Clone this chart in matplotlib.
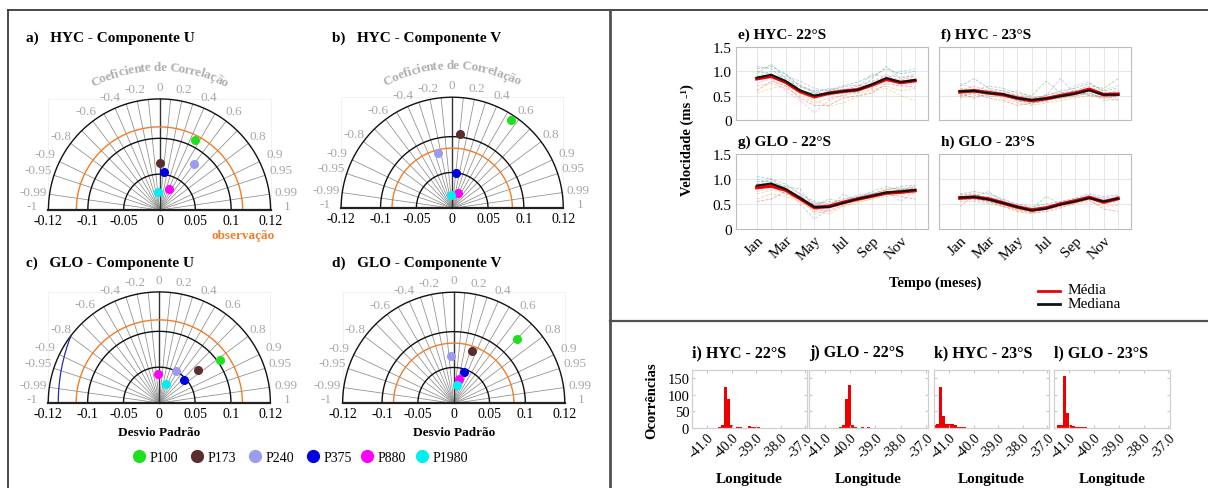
import numpy as np
import matplotlib
matplotlib.use('Agg')
import matplotlib.pyplot as plt

plt.rcParams['font.family'] = ['Liberation Serif', 'DejaVu Serif']

# ---------------- DATA ----------------
points = ['P100', 'P173', 'P240', 'P375', 'P880', 'P1980']
point_colors = ['#1ee01e', '#5a2e2e', '#9b9bf0', '#0000e0', '#ff00ff', '#00f0f0']

# Taylor diagrams: standard deviation and correlation of each point
std_a = [0.110, 0.066, 0.080, 0.054, 0.032, 0.025]
corr_a = [0.45, 0.01, 0.60, 0.11, 0.40, -0.06]
std_b = [0.148, 0.104, 0.080, 0.049, 0.023, 0.018]
corr_b = [0.55, 0.10, -0.24, 0.10, 0.35, -0.09]
std_c = [0.104, 0.071, 0.051, 0.047, 0.041, 0.028]
corr_c = [0.82, 0.76, 0.47, 0.72, -0.05, 0.32]
std_d = [0.126, 0.077, 0.066, 0.046, 0.034, 0.026]
corr_d = [0.70, 0.33, -0.06, 0.32, 0.20, 0.16]
obs_std = {'a': 0.116, 'b': 0.084, 'c': 0.116, 'd': 0.084}
rms_contour_c = 0.257

corr_ticks = [0, 0.2, 0.4, 0.6, 0.8, 0.9, 0.95, 0.99, 1]
corr_lines = [0.1, 0.2, 0.3, 0.4, 0.5, 0.6, 0.7, 0.8, 0.9, 0.95, 0.99]
std_tick_labels = ['-0.12', '-0.1', '-0.05', '0', '0.05', '0.1', '0.12']

# Time series (monthly)
months = list(range(1, 13))
month_labels = ['Jan', '', 'Mar', '', 'May', '', 'Jul', '', 'Sep', '', 'Nov', '']

e_median = [0.87, 0.93, 0.80, 0.61, 0.50, 0.55, 0.59, 0.62, 0.73, 0.86, 0.78, 0.82]
e_mean = [0.85, 0.90, 0.78, 0.59, 0.48, 0.55, 0.59, 0.62, 0.72, 0.84, 0.77, 0.81]
e_years = [
    [1.05, 1.10, 0.95, 0.70, 0.60, 0.62, 0.70, 0.78, 0.90, 1.05, 0.95, 1.00],
    [0.70, 0.75, 0.65, 0.50, 0.35, 0.45, 0.50, 0.55, 0.62, 0.70, 0.60, 0.65],
    [0.95, 1.15, 0.85, 0.72, 0.55, 0.50, 0.55, 0.60, 0.85, 1.10, 0.85, 0.95],
    [0.60, 0.80, 0.70, 0.45, 0.30, 0.30, 0.45, 0.50, 0.55, 0.75, 0.70, 0.68],
    [0.85, 0.90, 0.90, 0.80, 0.65, 0.60, 0.62, 0.70, 0.80, 0.90, 0.88, 0.90],
    [1.00, 0.95, 0.75, 0.55, 0.45, 0.60, 0.68, 0.72, 0.65, 0.80, 0.75, 0.85],
    [0.75, 0.85, 0.60, 0.40, 0.15, 0.40, 0.52, 0.58, 0.70, 0.95, 0.70, 0.75],
    [0.90, 1.00, 0.95, 0.60, 0.55, 0.65, 0.62, 0.55, 0.78, 0.85, 1.00, 1.05],
    [0.55, 0.65, 0.70, 0.55, 0.40, 0.28, 0.35, 0.48, 0.60, 0.65, 0.50, 0.40],
    [1.10, 1.05, 0.82, 0.68, 0.58, 0.52, 0.60, 0.66, 0.95, 0.88, 0.82, 0.90],
]
f_median = [0.59, 0.60, 0.55, 0.53, 0.45, 0.41, 0.44, 0.49, 0.54, 0.61, 0.52, 0.52]
f_mean = [0.58, 0.60, 0.56, 0.52, 0.45, 0.40, 0.44, 0.50, 0.55, 0.63, 0.52, 0.53]
f_years = [
    [0.70, 0.85, 0.65, 0.60, 0.50, 0.45, 0.50, 0.60, 0.65, 0.75, 0.60, 0.65],
    [0.45, 0.50, 0.50, 0.45, 0.35, 0.30, 0.35, 0.40, 0.45, 0.50, 0.45, 0.40],
    [0.65, 0.60, 0.70, 0.65, 0.55, 0.50, 0.80, 0.55, 0.60, 0.70, 0.65, 0.85],
    [0.50, 0.55, 0.45, 0.40, 0.30, 0.35, 0.40, 0.45, 0.50, 0.55, 0.45, 0.50],
    [0.60, 0.70, 0.60, 0.55, 0.60, 0.45, 0.50, 0.85, 0.55, 0.65, 0.55, 0.60],
    [0.55, 0.45, 0.55, 0.50, 0.40, 0.35, 0.38, 0.50, 0.60, 0.50, 0.48, 0.45],
    [0.75, 0.65, 0.58, 0.62, 0.48, 0.40, 0.45, 0.52, 0.70, 0.78, 0.58, 0.55],
    [0.52, 0.62, 0.48, 0.50, 0.42, 0.32, 0.42, 0.46, 0.48, 0.58, 0.40, 0.42],
    [0.62, 0.58, 0.52, 0.48, 0.52, 0.48, 0.46, 0.44, 0.52, 0.66, 0.62, 0.70],
    [0.48, 0.55, 0.62, 0.56, 0.38, 0.38, 0.52, 0.56, 0.58, 0.52, 0.50, 0.48],
]
g_median = [0.87, 0.91, 0.80, 0.62, 0.44, 0.44, 0.52, 0.60, 0.66, 0.73, 0.75, 0.78]
g_mean = [0.83, 0.86, 0.78, 0.61, 0.43, 0.45, 0.53, 0.60, 0.66, 0.72, 0.74, 0.77]
g_years = [
    [1.05, 1.00, 0.90, 0.70, 0.55, 0.50, 0.60, 0.65, 0.70, 0.80, 0.80, 0.85],
    [0.60, 0.70, 0.65, 0.55, 0.35, 0.30, 0.45, 0.55, 0.60, 0.65, 0.70, 0.70],
    [0.95, 0.95, 0.85, 0.80, 0.45, 0.60, 0.55, 0.62, 0.75, 0.85, 0.78, 0.82],
    [0.55, 0.60, 0.75, 0.65, 0.40, 0.35, 0.48, 0.58, 0.62, 0.70, 0.65, 0.60],
    [0.90, 1.00, 0.80, 0.50, 0.20, 0.40, 0.70, 0.55, 0.65, 0.72, 0.75, 0.80],
    [0.80, 0.85, 0.70, 0.60, 0.50, 0.55, 0.50, 0.62, 0.70, 0.78, 0.85, 0.88],
    [0.75, 0.80, 0.85, 0.72, 0.30, 0.38, 0.52, 0.58, 0.68, 0.75, 0.55, 0.75],
    [1.00, 0.92, 0.78, 0.58, 0.48, 0.42, 0.58, 0.68, 0.72, 0.68, 0.82, 0.72],
    [0.70, 0.78, 0.72, 0.55, 0.38, 0.45, 0.45, 0.52, 0.60, 0.80, 0.70, 0.78],
    [0.85, 0.88, 0.82, 0.66, 0.52, 0.48, 0.56, 0.60, 0.64, 0.74, 0.78, 0.84],
]
h_median = [0.63, 0.64, 0.59, 0.52, 0.44, 0.37, 0.41, 0.49, 0.55, 0.62, 0.55, 0.61]
h_mean = [0.62, 0.64, 0.60, 0.52, 0.44, 0.38, 0.42, 0.50, 0.56, 0.63, 0.54, 0.61]
h_years = [
    [0.70, 0.75, 0.70, 0.60, 0.50, 0.45, 0.50, 0.55, 0.62, 0.70, 0.65, 0.68],
    [0.55, 0.55, 0.50, 0.45, 0.35, 0.30, 0.38, 0.45, 0.50, 0.55, 0.45, 0.48],
    [0.60, 0.65, 0.75, 0.55, 0.45, 0.40, 0.65, 0.50, 0.58, 0.60, 0.58, 0.62],
    [0.65, 0.60, 0.55, 0.45, 0.38, 0.32, 0.35, 0.42, 0.52, 0.58, 0.40, 0.35],
    [0.45, 0.68, 0.62, 0.58, 0.48, 0.42, 0.40, 0.52, 0.60, 0.65, 0.62, 0.65],
    [0.68, 0.70, 0.58, 0.48, 0.40, 0.35, 0.42, 0.48, 0.55, 0.62, 0.50, 0.55],
    [0.58, 0.62, 0.65, 0.55, 0.42, 0.40, 0.38, 0.46, 0.52, 0.68, 0.60, 0.60],
    [0.62, 0.58, 0.52, 0.50, 0.46, 0.34, 0.44, 0.52, 0.58, 0.60, 0.52, 0.58],
    [0.66, 0.72, 0.60, 0.52, 0.36, 0.33, 0.40, 0.50, 0.56, 0.64, 0.56, 0.64],
    [0.60, 0.60, 0.56, 0.48, 0.44, 0.38, 0.45, 0.48, 0.54, 0.62, 0.58, 0.62],
]
year_colors = ['#1f77b4', '#ff7f0e', '#2ca02c', '#d62728', '#9467bd',
               '#8c564b', '#e377c2', '#17becf', '#bcbd22', '#7f7f7f']

# Histograms of longitude
i_lon = [-40.48, -40.36, -40.24, -40.12, -40.00, -39.76, -39.64, -39.28, -39.16, -39.04, -38.92]
i_cnt = [3, 10, 125, 88, 10, 2, 2, 5, 4, 3, 2]
j_lon = [-40.37, -40.25, -40.13, -40.01, -39.89, -39.77, -39.53, -39.29, -39.05]
j_cnt = [3, 10, 88, 130, 10, 4, 2, 2, 1]
k_lon = [-41.58, -41.46, -41.34, -41.22, -41.10, -40.98, -40.86, -40.74, -40.62, -40.50, -40.38, -40.26, -39.66, -39.06]
k_cnt = [10, 12, 123, 37, 12, 12, 12, 8, 4, 3, 2, 1, 1, 1]
l_lon = [-41.44, -41.32, -41.20, -41.08, -40.96, -40.84, -40.72, -40.60, -40.48, -40.36]
l_cnt = [8, 8, 158, 45, 8, 6, 3, 3, 2, 2]
lon_ticks = [-41, -40, -39, -38, -37]
lon_tick_labels = ['-41.0', '-40.0', '-39.0', '-38.0', '-37.0']
count_ticks = [0, 50, 100, 150]

# ---------------- FIGURE ----------------
W, H = 1208, 489
fig = plt.figure(figsize=(W / 100, H / 100), dpi=100)


def px_axes(left, top, right, bottom, **kw):
    return fig.add_axes([left / W, 1 - bottom / H, (right - left) / W, (bottom - top) / H], **kw)


ov = fig.add_axes([0, 0, 1, 1], zorder=-5)
ov.set_xlim(0, W)
ov.set_ylim(H, 0)
ov.axis('off')

# panel borders
bc = '#3a3a3a'
ov.plot([8, 8], [11, H], color=bc, lw=1.3)
ov.plot([8, W], [11, 11], color=bc, lw=1.3)
ov.plot([610, 610], [11, H], color='#505050', lw=2.0)
ov.plot([610, W], [322, 322], color='#505050', lw=1.6)

GRAY = '#a8a8a8'
ORANGE = '#f07d28'
R = 0.155
S = 2150 / 3  # px per unit


def char_w(ch):
    if ch == ' ':
        return 0.28
    if ch in 'iltfj':
        return 0.3
    if ch == 'r':
        return 0.4
    if ch == 'C':
        return 0.68
    return 0.5


def curved_text(ax, text, radius, a0, a1):
    ws = [char_w(c) for c in text]
    tot = sum(ws)
    acc = 0
    for c, w in zip(text, ws):
        frac = (acc + w / 2) / tot
        acc += w
        ang = np.deg2rad(a0 + (a1 - a0) * frac)
        ax.text(radius * np.cos(ang), radius * np.sin(ang), c, rotation=np.rad2deg(ang) - 90,
                ha='center', va='center', color='#b0b0b0', fontsize=9.5, fontweight='bold',
                rotation_mode='anchor')


def taylor(cx, base, std, corr, obs, title, title_xy, curved=False, rms=None):
    x0, x1, y0, y1 = -0.2, 0.2, -0.04, 0.23
    ax = px_axes(cx + x0 * S, base - y1 * S, cx + x1 * S, base - y0 * S)
    ax.set_xlim(x0, x1)
    ax.set_ylim(y0, y1)
    ax.axis('off')
    th = np.linspace(0, np.pi, 400)
    # faint box
    ax.plot([-R, -R, R, R], [0, R, R, 0], color='#efefef', lw=0.6, zorder=0)
    # radial lines
    for c in corr_lines:
        for sg in (1, -1):
            a = np.arccos(sg * c)
            ax.plot([0, R * np.cos(a)], [0, R * np.sin(a)], color='#8c8c8c', lw=0.55, zorder=1)
    ax.plot([0, 0], [0, R], color='#333333', lw=1.0, zorder=1)
    for r in [0.05, 0.1, R]:
        ax.plot(r * np.cos(th), r * np.sin(th), color='#111111', lw=1.0, zorder=2)
    ax.plot(obs * np.cos(th), obs * np.sin(th), color=ORANGE, lw=1.0, zorder=2)
    if rms is not None:
        ph = np.linspace(np.pi / 2, np.pi, 600)
        xs = obs + rms * np.cos(ph)
        ys = rms * np.sin(ph)
        m = xs ** 2 + ys ** 2 <= R ** 2
        ax.plot(xs[m], ys[m], color='#2b2bb0', lw=0.9, zorder=2)
    ax.plot([-R, R], [0, 0], color='#222222', lw=1.6, zorder=3)
    # std tick labels
    for p, lab in zip([-R, -0.1, -0.05, 0, 0.05, 0.1, R], std_tick_labels):
        ax.text(p, -0.005, lab, ha='center', va='top', fontsize=10, color='black')
    # correlation labels
    for c in corr_ticks:
        for sg in ((1, -1) if c != 0 else (1,)):
            v = sg * c
            a = np.arccos(v)
            if abs(v) == 1:
                a = np.deg2rad(2.0) if v > 0 else np.deg2rad(178.0)
            lab = ('%g' % v)
            rr = 0.172 if abs(v) < 0.85 else 0.178
            ax.text(rr * np.cos(a), rr * np.sin(a), lab, ha='center', va='center',
                    fontsize=9.5, color=GRAY)
    # points
    for s_, c_, col in zip(std, corr, point_colors):
        ax.plot(s_ * c_, s_ * np.sqrt(1 - c_ ** 2), 'o', ms=5.5, color=col, zorder=5)
    if curved:
        curved_text(ax, 'Coeficiente de Correlação', 0.2, 118, 62)
    ov.text(title_xy[0], title_xy[1], title, ha='left', va='center', fontsize=11,
            fontweight='bold')
    return ax


taylor(159.5, 211, std_a, corr_a, obs_std['a'], 'a)   HYC - Componente U', (26, 38), curved=True)
taylor(452.2, 209.3, std_b, corr_b, obs_std['b'], 'b)   HYC - Componente V', (332, 38), curved=True)
taylor(159.3, 404, std_c, corr_c, obs_std['c'], 'c)   GLO - Componente U', (26, 263), rms=rms_contour_c)
taylor(453.7, 404.3, std_d, corr_d, obs_std['d'], 'd)   GLO - Componente V', (332, 263))

ov.text(243, 236, 'observação', color=ORANGE, fontsize=9.5, fontweight='bold', ha='center', va='center')
ov.text(159.3, 433, 'Desvio Padrão', fontsize=9.5, fontweight='bold', ha='center', va='center')
ov.text(453.7, 433, 'Desvio Padrão', fontsize=9.5, fontweight='bold', ha='center', va='center')

# legend of points
leg_x = [139, 196.7, 255, 312.7, 366.7, 421.7]
for lx, name, col in zip(leg_x, points, point_colors):
    ov.plot(lx, 457, 'o', ms=8.5, color=col)
    ov.text(lx + 11, 458, name, fontsize=10, ha='left', va='center')

# ---------------- TIME SERIES ----------------
ts_specs = [
    ((736, 48, 928, 121), e_years, e_mean, e_median, 'e) HYC- 22°S', True, False),
    ((939, 48, 1131, 121), f_years, f_mean, f_median, 'f) HYC - 23°S', False, False),
    ((736, 155, 928, 230), g_years, g_mean, g_median, 'g) GLO - 22°S', True, True),
    ((939, 155, 1131, 230), h_years, h_mean, h_median, 'h) GLO - 23°S', False, True),
]
for (l, t, r, b), yrs, mn, md, title, ylab, xlab in ts_specs:
    ax = px_axes(l, t, r, b)
    for k, y in enumerate(yrs):
        ax.plot(months, y, ls='--', lw=0.6, color=year_colors[k % len(year_colors)], alpha=0.4)
    ax.plot(months, mn, color='#ee0000', lw=2.6, zorder=4)
    ax.plot(months, md, color='#111111', lw=1.5, zorder=5)
    ax.set_xlim(-0.45, 12.9)
    ax.set_ylim(0, 1.5)
    ax.set_xticks(months)
    ax.set_yticks([0, 0.5, 1.0, 1.5])
    ax.grid(True, color='#e2e2e2', lw=0.6)
    ax.set_axisbelow(True)
    for sp in ax.spines.values():
        sp.set_color('#bdbdbd')
        sp.set_linewidth(0.8)
    ax.tick_params(length=0, labelsize=11, pad=3)
    if ylab:
        ax.set_yticklabels(['0', '0.5', '1.0', '1.5'])
    else:
        ax.set_yticklabels([])
    if xlab:
        ax.set_xticklabels(month_labels, rotation=45, ha='right', rotation_mode='anchor', fontsize=11)
    else:
        ax.set_xticklabels([])
    ov.text(l + 2, t - 13, title, fontsize=11, fontweight='bold', ha='left', va='center')

ov.text(687, 140, 'Velocidade (ms -¹)', rotation=90, fontsize=10.5, fontweight='bold',
        ha='center', va='center')
ov.text(935, 283, 'Tempo (meses)', fontsize=10.5, fontweight='bold', ha='center', va='center')
ov.plot([1038, 1060], [291.5, 291.5], color='#ee0000', lw=2)
ov.plot([1038, 1060], [305, 305], color='#111111', lw=2)
ov.text(1068, 291, 'Média', fontsize=11, ha='left', va='center')
ov.text(1068, 305, 'Mediana', fontsize=11, ha='left', va='center')

# ---------------- HISTOGRAMS ----------------
h_specs = [
    ((692, 371, 807, 429), i_lon, i_cnt, 'i) HYC - 22°S', True),
    ((809, 371, 928, 429), j_lon, j_cnt, 'j) GLO - 22°S', False),
    ((934, 371, 1049, 429), k_lon, k_cnt, 'k) HYC - 23°S', False),
    ((1054, 371, 1170, 429), l_lon, l_cnt, 'l) GLO - 23°S', False),
]
for (l, t, r, b), lon, cnt, title, ylab in h_specs:
    ax = px_axes(l, t, r, b)
    ax.bar(lon, cnt, width=0.12, color='#ee0000', linewidth=0)
    ax.set_xlim(-41.62, -36.93)
    ax.set_ylim(0, 175)
    ax.set_xticks(lon_ticks)
    ax.set_xticklabels(lon_tick_labels, rotation=45, ha='right', rotation_mode='anchor', fontsize=10)
    ax.set_yticks(count_ticks)
    if ylab:
        ax.set_yticklabels([str(v) for v in count_ticks], fontsize=10.5)
    else:
        ax.set_yticklabels([])
    for sp in ax.spines.values():
        sp.set_color('#d0d0d0')
        sp.set_linewidth(0.9)
    ax.tick_params(direction='in', length=2, color='#c8c8c8', top=True, right=True, pad=2)
    ov.text(l, 353, title, fontsize=11.5, fontweight='bold', ha='left', va='center')
    ov.text((l + r) / 2, 479, 'Longitude', fontsize=11, fontweight='bold', ha='center', va='center')

ov.text(651.7, 401, 'Ocorrências', rotation=90, fontsize=10.5, fontweight='bold', ha='center', va='center')

fig.savefig('out.png', dpi=100)
